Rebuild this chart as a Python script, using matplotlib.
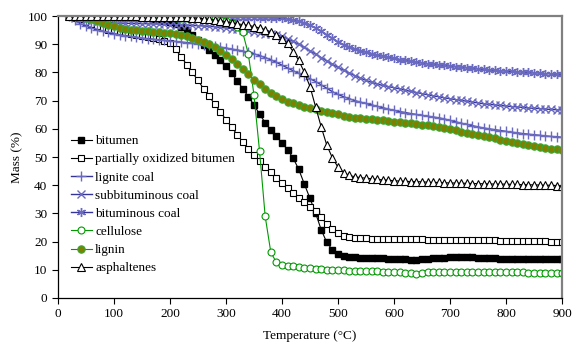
import numpy as np
import matplotlib
matplotlib.use("Agg")
import matplotlib.pyplot as plt

plt.rcParams['font.family'] = ['Liberation Serif', 'DejaVu Serif']
plt.rcParams['font.size'] = 9.5

# Temperatura (°C), passo de 10 graus
temperature = np.arange(20, 901, 10)

# Massa (%) de cada amostra
bitumen = [
    100, 100, 100, 100, 100, 100, 100, 100, 100, 99.9,
    99.8, 99.7, 99.6, 99.5, 99.3, 99.1, 98.8, 98.4, 97.9, 97.2,
    96.3, 95.0, 93.3, 91.5, 89.7, 87.9, 86.2, 84.4, 82.3, 79.8,
    77.0, 74.3, 71.4, 68.5, 65.2, 62.2, 59.6, 57.3, 55.0, 52.6,
    49.6, 45.6, 40.4, 35.3, 30.1, 24.2, 19.7, 17.1, 15.6, 14.9,
    14.6, 14.4, 14.3, 14.2, 14.2, 14.1, 14.1, 14.0, 14.0, 13.9,
    13.7, 13.5, 13.5, 13.7, 14.0, 14.2, 14.3, 14.3, 14.4, 14.5,
    14.6, 14.5, 14.4, 14.3, 14.2, 14.1, 14.1, 14.0, 14.0, 14.0,
    13.9, 13.9, 13.9, 13.9, 13.8, 13.8, 13.8, 13.8, 13.8,
]
ox_bitumen = [
    100, 99.5, 98.8, 98.0, 97.2, 96.5, 95.8, 95.2, 94.7, 94.3,
    93.9, 93.6, 93.3, 93.0, 92.7, 92.3, 91.8, 91.3, 90.5, 88.2,
    85.6, 82.8, 80.0, 77.2, 74.3, 71.5, 68.8, 66.0, 63.3, 60.6,
    58.0, 55.4, 53.0, 50.8, 48.6, 46.6, 44.6, 42.6, 40.7, 39.0,
    37.3, 35.6, 33.9, 32.3, 30.8, 28.6, 26.2, 24.3, 22.9, 22.0,
    21.6, 21.4, 21.3, 21.2, 21.1, 21.1, 21.0, 21.0, 20.9, 20.9,
    20.9, 20.8, 20.8, 20.8, 20.7, 20.7, 20.7, 20.6, 20.6, 20.6,
    20.6, 20.5, 20.5, 20.5, 20.4, 20.4, 20.4, 20.3, 20.3, 20.3,
    20.2, 20.2, 20.2, 20.1, 20.1, 20.1, 20.0, 20.0, 20.0,
]
lignite = [
    100, 98.5, 97.3, 96.5, 95.8, 95.2, 94.7, 94.2, 93.8, 93.4,
    93.1, 92.8, 92.5, 92.2, 92.0, 91.8, 91.6, 91.4, 91.2, 91.0,
    90.8, 90.6, 90.4, 90.2, 89.9, 89.6, 89.3, 89.0, 88.7, 88.3,
    88.0, 87.6, 87.1, 86.6, 86.0, 85.3, 84.5, 83.6, 82.6, 81.6,
    80.6, 79.7, 78.8, 77.8, 76.8, 75.6, 74.4, 73.2, 72.2, 71.4,
    70.7, 70.0, 69.5, 69.0, 68.5, 68.0, 67.5, 67.0, 66.6, 66.1,
    65.8, 65.4, 65.1, 64.8, 64.5, 64.2, 63.9, 63.5, 63.0, 62.5,
    62.0, 61.6, 61.1, 60.7, 60.3, 60.0, 59.7, 59.4, 59.1, 58.8,
    58.6, 58.3, 58.1, 57.9, 57.7, 57.5, 57.3, 57.2, 57.0,
]
subbituminous = [
    100, 99.4, 98.9, 98.5, 98.2, 98.0, 97.8, 97.7, 97.6, 97.5,
    97.5, 97.4, 97.4, 97.3, 97.3, 97.2, 97.2, 97.1, 97.0, 97.0,
    96.9, 96.8, 96.7, 96.6, 96.5, 96.4, 96.2, 96.0, 95.8, 95.6,
    95.3, 95.0, 94.7, 94.4, 94.1, 93.8, 93.6, 93.3, 92.8, 92.0,
    91.0, 90.0, 88.9, 87.7, 86.5, 85.3, 84.1, 82.9, 81.8, 80.8,
    79.8, 78.9, 78.0, 77.2, 76.5, 75.9, 75.4, 75.0, 74.6, 74.2,
    73.7, 73.3, 72.9, 72.5, 72.1, 71.7, 71.4, 71.0, 70.7, 70.4,
    70.1, 69.8, 69.5, 69.2, 68.9, 68.7, 68.5, 68.3, 68.1, 67.9,
    67.8, 67.6, 67.4, 67.3, 67.2, 67.0, 66.9, 66.8, 66.7,
]
bituminous = [
    100, 100, 99.9, 99.9, 99.8, 99.8, 99.8, 99.8, 99.7, 99.7,
    99.7, 99.7, 99.7, 99.7, 99.7, 99.6, 99.6, 99.6, 99.6, 99.6,
    99.6, 99.6, 99.6, 99.6, 99.6, 99.6, 99.6, 99.5, 99.5, 99.5,
    99.5, 99.5, 99.5, 99.5, 99.4, 99.4, 99.4, 99.3, 99.2, 99.0,
    98.7, 98.2, 97.6, 96.8, 95.8, 94.7, 93.4, 92.1, 90.9, 89.9,
    89.1, 88.4, 87.8, 87.2, 86.7, 86.2, 85.8, 85.4, 85.0, 84.6,
    84.3, 84.0, 83.7, 83.4, 83.1, 82.9, 82.7, 82.5, 82.3, 82.1,
    81.9, 81.7, 81.5, 81.3, 81.1, 80.9, 80.8, 80.6, 80.5, 80.4,
    80.3, 80.1, 80.0, 79.9, 79.8, 79.6, 79.5, 79.4, 79.3,
]
cellulose = [
    100, 100, 100, 100, 100, 99.9, 99.9, 99.9, 99.8, 99.8,
    99.8, 99.8, 99.7, 99.7, 99.7, 99.7, 99.6, 99.6, 99.6, 99.5,
    99.5, 99.4, 99.4, 99.3, 99.2, 99.1, 98.9, 98.6, 98.2, 97.6,
    96.3, 94.2, 86.5, 72.0, 52.0, 29.0, 16.3, 12.6, 11.8, 11.5,
    11.2, 10.9, 10.7, 10.5, 10.3, 10.2, 10.1, 10.0, 9.9, 9.8,
    9.7, 9.6, 9.6, 9.5, 9.4, 9.4, 9.3, 9.3, 9.2, 9.1,
    8.9, 8.7, 8.6, 8.7, 9.1, 9.2, 9.3, 9.3, 9.3, 9.3,
    9.3, 9.3, 9.3, 9.3, 9.2, 9.2, 9.2, 9.2, 9.2, 9.1,
    9.1, 9.1, 9.0, 9.0, 9.0, 8.9, 8.9, 8.9, 8.8,
]
lignin = [
    100, 99.9, 99.7, 99.4, 99.0, 98.4, 97.7, 97.0, 96.4, 95.9,
    95.5, 95.2, 95.0, 94.8, 94.6, 94.4, 94.3, 94.1, 94.0, 93.7,
    93.3, 92.9, 92.3, 91.6, 90.9, 90.0, 89.0, 87.8, 86.3, 84.7,
    83.0, 81.2, 79.3, 77.5, 75.8, 74.2, 72.8, 71.6, 70.6, 69.7,
    69.0, 68.4, 67.9, 67.4, 66.9, 66.4, 65.9, 65.5, 65.1, 64.7,
    64.3, 64.0, 63.8, 63.6, 63.4, 63.2, 63.0, 62.8, 62.6, 62.4,
    62.2, 62.0, 61.8, 61.5, 61.2, 60.9, 60.6, 60.3, 60.0, 59.5,
    59.0, 58.6, 58.1, 57.7, 57.3, 57.0, 56.6, 56.2, 55.8, 55.4,
    55.0, 54.6, 54.2, 53.9, 53.6, 53.3, 53.0, 52.7, 52.5,
]
asphaltenes = [
    100, 100, 100, 100, 100, 100, 99.9, 99.9, 99.9, 99.9,
    99.9, 99.9, 99.9, 99.8, 99.8, 99.8, 99.8, 99.8, 99.7, 99.7,
    99.6, 99.6, 99.4, 99.3, 99.1, 98.9, 98.7, 98.4, 98.0, 97.7,
    97.3, 97.0, 96.7, 96.3, 95.8, 95.2, 94.3, 93.2, 92.0, 90.3,
    87.4, 84.3, 80.0, 75.0, 67.8, 60.7, 54.2, 49.7, 46.4, 44.5,
    43.5, 43.0, 42.7, 42.5, 42.3, 42.1, 41.9, 41.8, 41.6, 41.5,
    41.4, 41.3, 41.3, 41.2, 41.1, 41.0, 41.0, 40.9, 40.8, 40.8,
    40.7, 40.7, 40.6, 40.6, 40.5, 40.5, 40.4, 40.4, 40.4, 40.3,
    40.3, 40.2, 40.2, 40.1, 40.1, 40.0, 40.0, 39.9, 39.8,
]

coal_blue = '#333399'
coal_mark = '#6a6ac0'

fig = plt.figure(figsize=(5.73, 3.48), dpi=100)
ax = fig.add_axes([0.101, 0.1437, 0.880, 0.810])

ax.plot(temperature, bitumen, color='black', lw=0.8, marker='s', ms=5,
        mfc='black', mec='black', label='bitumen')
ax.plot(temperature, ox_bitumen, color='black', lw=0.8, marker='s', ms=5,
        mfc='white', mec='black', mew=0.8, label='partially oxidized bitumen')
ax.plot(temperature, lignite, color=coal_blue, lw=1.0, marker='+', ms=7,
        mec=coal_mark, mew=1.0, label='lignite coal')
ax.plot(temperature, subbituminous, color=coal_blue, lw=1.0, marker='x', ms=5.5,
        mec=coal_mark, mew=1.0, label='subbituminous coal')
ax.plot(temperature, bituminous, color=coal_blue, lw=1.0, marker=(6, 2, 0), ms=6.5,
        mec=coal_mark, mew=1.0, label='bituminous coal')
ax.plot(temperature, cellulose, color='#009900', lw=0.8, marker='o', ms=5,
        mfc='white', mec='#009900', mew=0.8, label='cellulose')
ax.plot(temperature, lignin, color='#009900', lw=0.8, marker='o', ms=5.3,
        mfc='#808000', mec='#33aa33', mew=0.8, label='lignin')
ax.plot(temperature, asphaltenes, color='black', lw=0.8, marker='^', ms=5.3,
        mfc='white', mec='black', mew=0.8, label='asphaltenes')

ax.set_xlim(0, 900)
ax.set_ylim(0, 100)
ax.set_xticks(np.arange(0, 901, 100))
ax.set_yticks(np.arange(0, 101, 10))
ax.tick_params(direction='out', length=4, width=0.8, labelsize=9.5)
ax.set_xlabel('Temperature (°C)', fontsize=9.5, labelpad=7)
ax.set_ylabel('Mass (%)', fontsize=9.5, labelpad=3)

for side in ('top', 'right'):
    ax.spines[side].set_color('#808080')
    ax.spines[side].set_linewidth(1.6)
for side in ('left', 'bottom'):
    ax.spines[side].set_color('black')
    ax.spines[side].set_linewidth(0.9)

ax.legend(loc='lower left', bbox_to_anchor=(0.015, 0.065), frameon=False,
          numpoints=1, handlelength=1.6, handletextpad=0.25,
          labelspacing=0.45, fontsize=9.5, borderaxespad=0)

fig.savefig('out.png', dpi=100)
